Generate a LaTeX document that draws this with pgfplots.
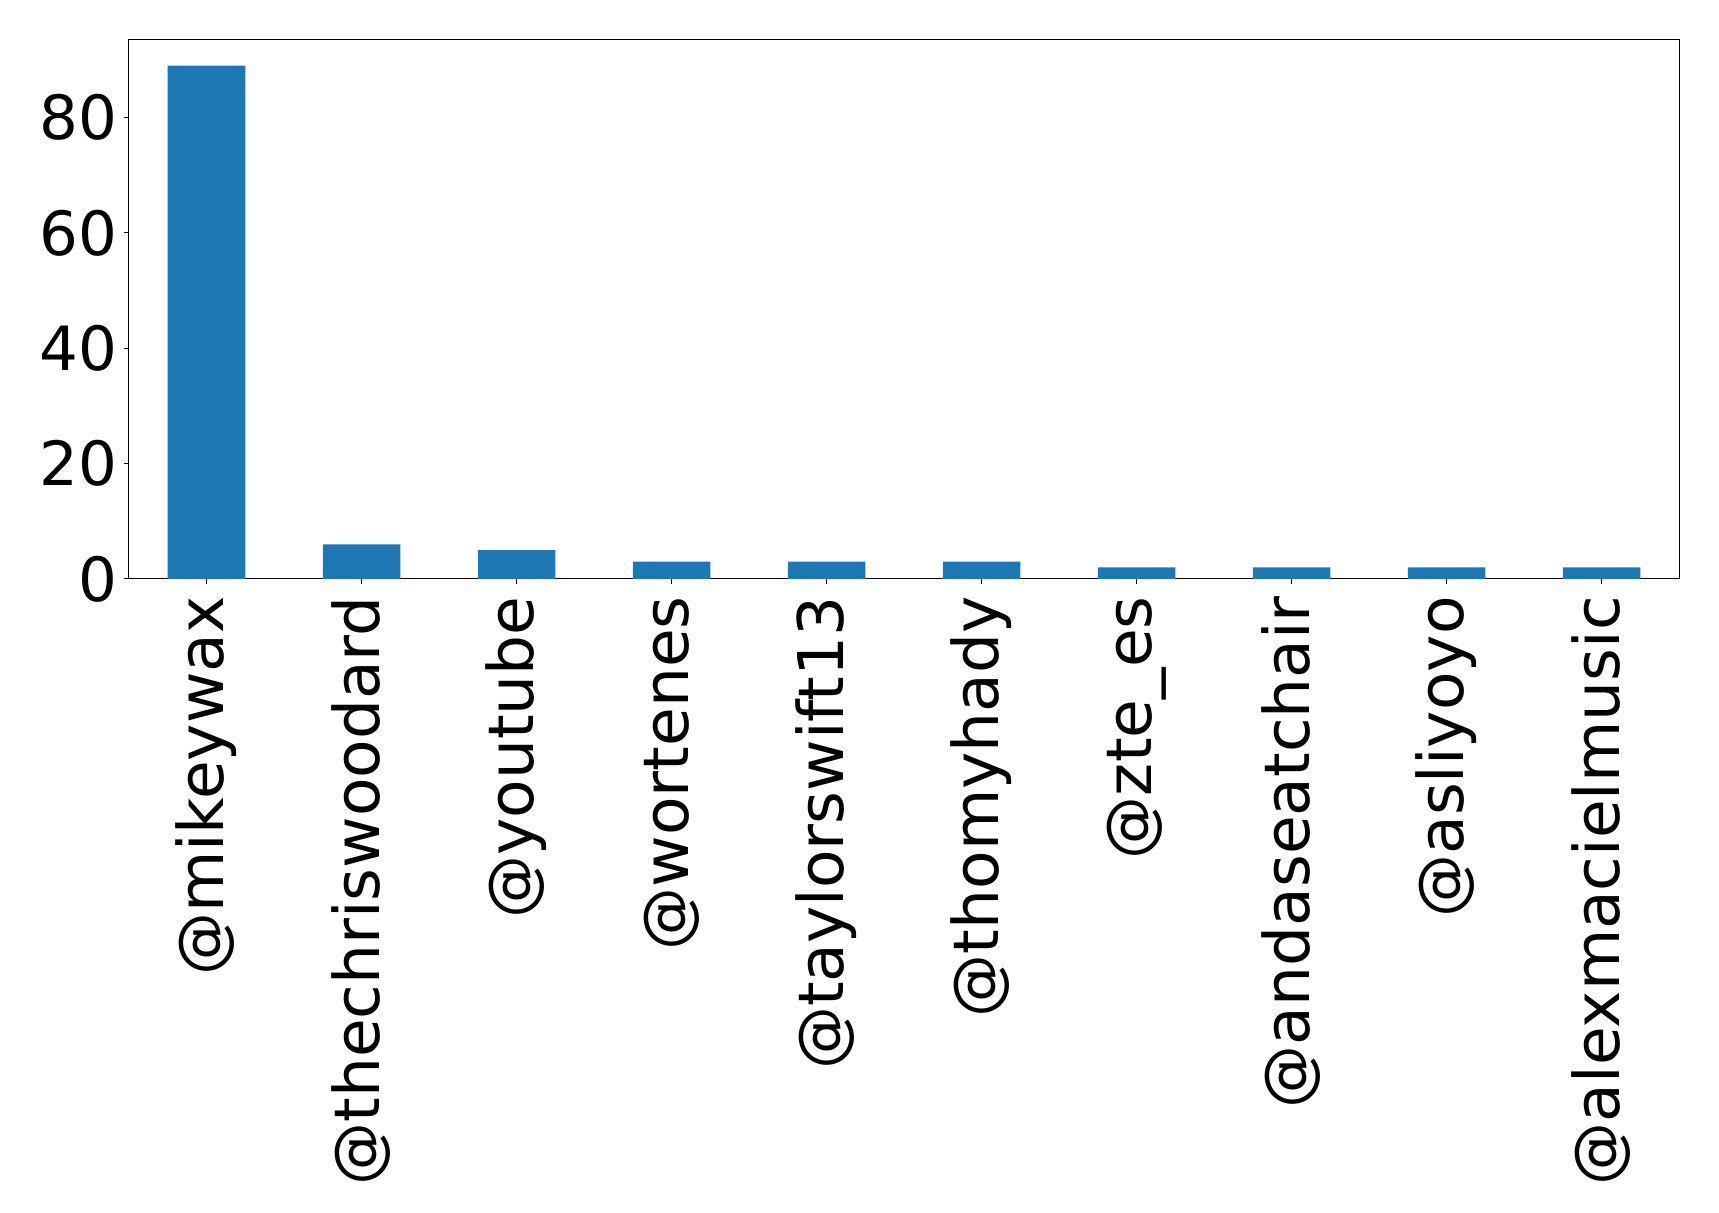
\documentclass[border=0pt]{standalone}
\usepackage{pgfplots}
\pgfplotsset{compat=1.18}
\usepackage{fontspec}
\setmainfont{DejaVu Sans}
\definecolor{mplblue}{HTML}{1F77B4}
\begin{document}
\begin{tikzpicture}
% 1px of the reference = 0.5pt
\useasboundingbox (-64.5pt,-317pt) rectangle (795pt,289.5pt);
\begin{axis}[
        at={(0,0)}, anchor=south west,
        width=775pt, height=269.5pt,
        scale only axis,
        ybar,
        bar width=0.5,
        xmin=-0.5, xmax=9.5,
        ymin=0, ymax=93.45,
        xtick={0,...,9},
        xticklabels={@mikeywax, @thechriswoodard, @youtube, @wortenes, @taylorswift13, @thomyhady, @zte\_es, @andaseatchair, @asliyoyo, @alexmacielmusic},
        ytick={0,20,40,60,80},
        tick align=outside,
        xtick pos=bottom, ytick pos=left,
        major tick length=2.5pt,
        axis line style={line width=0.5pt},
        tick style={line width=0.5pt, black},
        yticklabel style={font=\fontsize{30.5}{30.5}\selectfont, inner sep=0pt, xshift=-3pt},
        /pgf/number format/assume math mode=true,
        % the shift comes after the rotation, so xshift moves the label down
        xticklabel style={font=\fontsize{31.5}{31.5}\selectfont, rotate=90, anchor=east, inner sep=0pt, xshift=-6pt},
    ]
\addplot[fill=mplblue, draw=none]
    coordinates {
        (0, 89)
        (1, 6)
        (2, 5)
        (3, 3)
        (4, 3)
        (5, 3)
        (6, 2)
        (7, 2)
        (8, 2)
        (9, 2)
    };
\end{axis}
\end{tikzpicture}
\end{document}
